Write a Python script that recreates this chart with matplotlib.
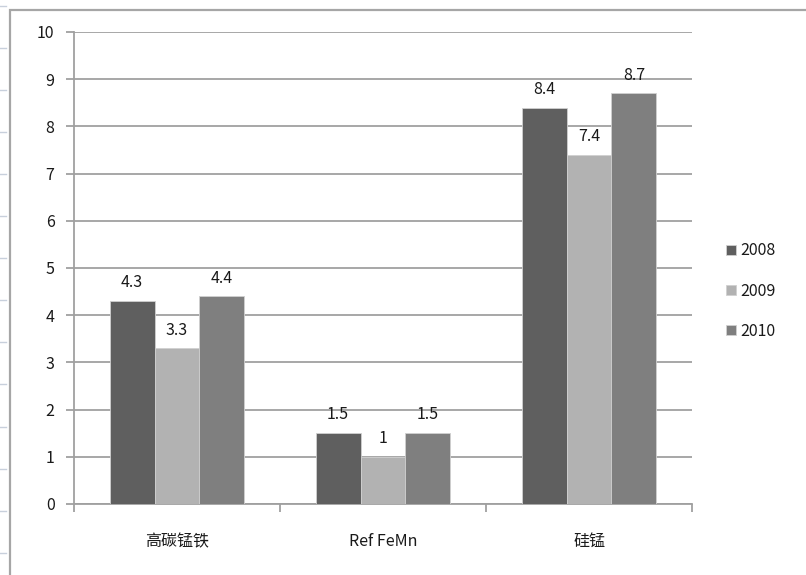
import matplotlib
matplotlib.use("Agg")
import matplotlib.pyplot as plt
import numpy as np

plt.rcParams['font.family'] = ['Noto Sans CJK SC', 'DejaVu Sans']

categories = ['高碳锰铁', 'Ref FeMn', '硅锰']
series_names = ['2008', '2009', '2010']
values_2008 = [4.3, 1.5, 8.4]
values_2009 = [3.3, 1.0, 7.4]
values_2010 = [4.4, 1.5, 8.7]
series_values = [values_2008, values_2009, values_2010]
colors = ['#5f5f5f', '#b2b2b2', '#7f7f7f']
y_ticks = list(range(0, 11))

FS = 11.5
TXT = '#1a1a1a'

fig = plt.figure(figsize=(8.06, 5.75), dpi=100)
ax = fig.add_axes([74/806, 1-504/575, (692-74)/806, (504-32)/575])

# outer chart frame (partially visible)
frame = plt.Rectangle((10/806, -0.1), 1.2, 1-10/575+0.1, transform=fig.transFigure,
                      fill=False, edgecolor='#a6a6a6', linewidth=1.6, zorder=0)
fig.patches.append(frame)
# spreadsheet row marks at left edge
for yy in np.arange(5.5, 575, 42.1):
    fig.add_artist(plt.Line2D([0, 6/806], [1-yy/575, 1-yy/575], transform=fig.transFigure,
                              color='#c8d0dc', linewidth=1))

x = np.arange(len(categories))
w = 0.218
for i, (name, vals, c) in enumerate(zip(series_names, series_values, colors)):
    pos = x + (i - 1) * w
    bars = ax.bar(pos, vals, width=w, color=c, edgecolor='#d0d0d0', linewidth=0.6,
                  label=name, zorder=3)
    for b, v in zip(bars, vals):
        txt = ('%g' % v)
        ax.annotate(txt, (b.get_x() + b.get_width()/2, v), xytext=(0, 7),
                    textcoords='offset points', ha='center', va='bottom',
                    fontsize=FS, color=TXT, zorder=4)

ax.set_xlim(-0.5, 2.5)
ax.set_ylim(0, 10)
ax.set_yticks(y_ticks)
ax.set_yticklabels([str(t) for t in y_ticks], fontsize=FS, color=TXT)
ax.yaxis.grid(True, color='#a0a0a0', linewidth=1.3, zorder=0)
ax.set_axisbelow(True)

ax.set_xticks([-0.5, 0.5, 1.5, 2.5])
ax.set_xticklabels([])
ax.set_xticks(x, minor=True)
ax.set_xticklabels(categories, minor=True, fontsize=FS, color=TXT)
ax.tick_params(axis='x', which='major', length=6, width=1.3, color='#a0a0a0', direction='out')
ax.tick_params(axis='x', which='minor', length=0, pad=21)
ax.tick_params(axis='y', length=6, width=1.3, color='#a0a0a0', pad=8)

for s in ['top', 'right']:
    ax.spines[s].set_visible(False)
for s in ['left', 'bottom']:
    ax.spines[s].set_color('#a0a0a0')
    ax.spines[s].set_linewidth(1.3)

leg = fig.legend(loc='center left', bbox_to_anchor=(712/806, 1-291/575), frameon=False,
                 fontsize=FS, handlelength=0.6, handleheight=0.6, handletextpad=0.3,
                 labelspacing=1.45)
for t in leg.get_texts():
    t.set_color(TXT)

fig.savefig('out.png', dpi=100)
